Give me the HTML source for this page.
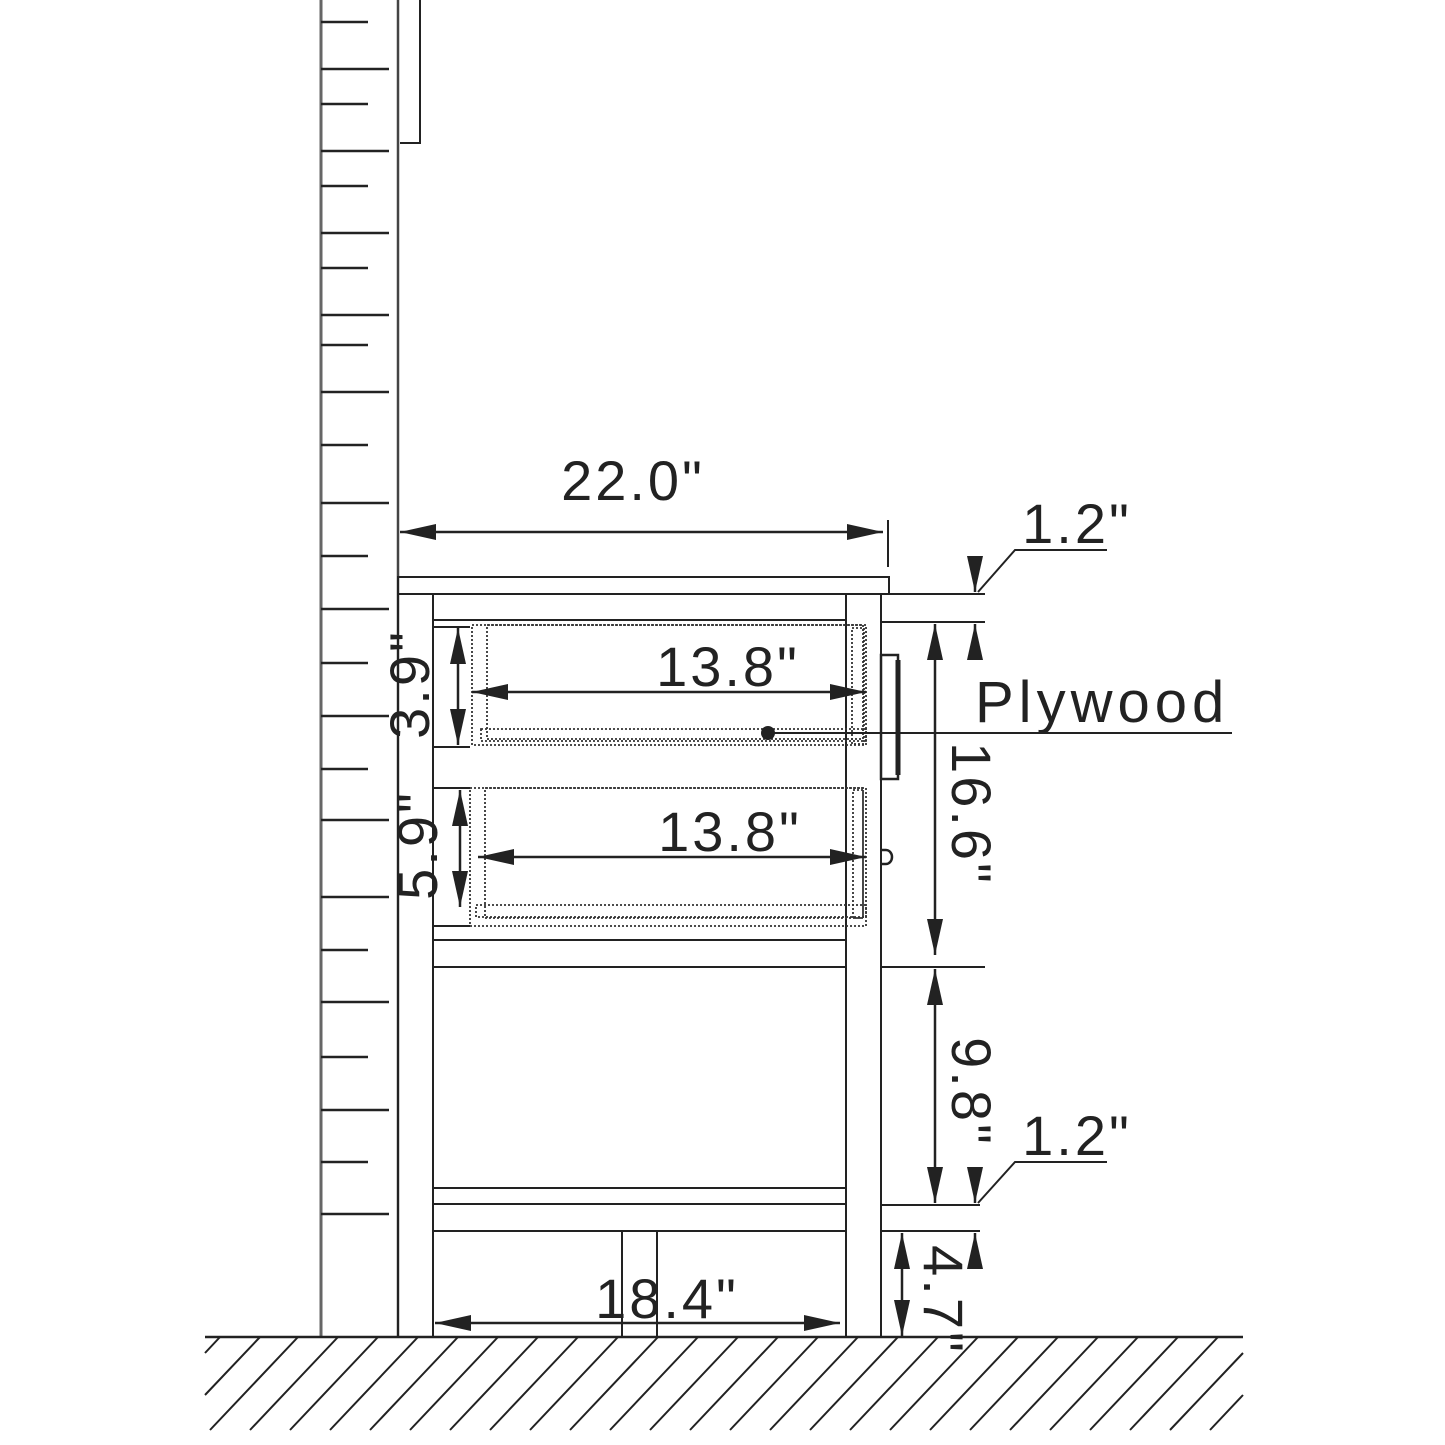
<!DOCTYPE html>
<html><head><meta charset="utf-8"><style>
html,body{margin:0;padding:0;background:#fff;}
svg{display:block;}
text{font-family:"Liberation Sans",sans-serif;fill:#222;}
</style></head><body>
<svg width="1445" height="1445" viewBox="0 0 1445 1445" xmlns="http://www.w3.org/2000/svg">
<defs>
<marker id="b" viewBox="0 0 10 10" refX="10" refY="5" markerWidth="36" markerHeight="16" markerUnits="userSpaceOnUse" orient="auto-start-reverse" preserveAspectRatio="none"><path d="M0,0 L10,5 L0,10 z" fill="#222"/></marker>
</defs>
<g stroke="#222" fill="none" stroke-width="2">
<line x1="321" y1="0" x2="321" y2="1337" stroke="#666" stroke-width="3"/>
<line x1="398" y1="0" x2="398" y2="1337" stroke="#444" stroke-width="2.5"/>
<g stroke-width="2.5">
<line x1="321" y1="22" x2="368" y2="22"/><line x1="321" y1="69" x2="389" y2="69"/>
<line x1="321" y1="104" x2="368" y2="104"/><line x1="321" y1="151" x2="389" y2="151"/>
<line x1="321" y1="186" x2="368" y2="186"/><line x1="321" y1="233" x2="389" y2="233"/>
<line x1="321" y1="268" x2="368" y2="268"/><line x1="321" y1="315" x2="389" y2="315"/>
<line x1="321" y1="345" x2="368" y2="345"/><line x1="321" y1="392" x2="389" y2="392"/>
<line x1="321" y1="445" x2="368" y2="445"/><line x1="321" y1="503" x2="389" y2="503"/>
<line x1="321" y1="556" x2="368" y2="556"/><line x1="321" y1="609" x2="389" y2="609"/>
<line x1="321" y1="663" x2="368" y2="663"/><line x1="321" y1="716" x2="389" y2="716"/>
<line x1="321" y1="769" x2="368" y2="769"/><line x1="321" y1="820" x2="389" y2="820"/>
<line x1="321" y1="897" x2="389" y2="897"/>
<line x1="321" y1="950" x2="368" y2="950"/><line x1="321" y1="1002" x2="389" y2="1002"/>
<line x1="321" y1="1057" x2="368" y2="1057"/><line x1="321" y1="1110" x2="389" y2="1110"/>
<line x1="321" y1="1162" x2="368" y2="1162"/><line x1="321" y1="1214" x2="389" y2="1214"/>
</g>
<polyline points="420,0 420,143 400,143"/>
<rect x="398" y="577" width="491" height="17"/>
<rect x="398" y="594" width="35" height="743"/>
<rect x="846" y="594" width="35" height="743"/>
<line x1="433" y1="620" x2="846" y2="620"/>
<line x1="433" y1="627" x2="470" y2="627"/>
<line x1="433" y1="747" x2="470" y2="747"/>
<line x1="433" y1="788" x2="470" y2="788"/>
<line x1="433" y1="926" x2="470" y2="926"/>
<line x1="433" y1="940" x2="846" y2="940"/>
<line x1="433" y1="967" x2="846" y2="967"/>
<line x1="433" y1="1188" x2="846" y2="1188"/>
<line x1="433" y1="1204" x2="846" y2="1204"/>
<line x1="433" y1="1231" x2="846" y2="1231"/>
<rect x="622" y="1231" width="35" height="106"/>
<g stroke-dasharray="2 2" stroke-width="1.8" stroke="#333">
<rect x="472" y="625" width="394" height="120"/>
<rect x="487" y="625" width="376" height="114"/>
<rect x="481" y="729" width="385" height="12"/>
<rect x="852" y="628" width="12" height="116"/>
<rect x="470" y="788" width="396" height="138"/>
<rect x="485" y="788" width="378" height="130"/>
<rect x="476" y="905" width="390" height="12"/>
<rect x="853" y="790" width="10" height="128"/>
</g>
<rect x="881" y="655" width="17" height="124" stroke-width="2.5"/>
<line x1="898" y1="660" x2="898" y2="775" stroke-width="5"/>
<path d="M881,850 h5 a6,7 0 0 1 0,14 h-5" stroke-width="2.5"/>
<line x1="881" y1="594" x2="985" y2="594"/>
<line x1="881" y1="622" x2="985" y2="622"/>
<line x1="881" y1="967" x2="985" y2="967"/>
<line x1="881" y1="1205" x2="980" y2="1205"/>
<line x1="881" y1="1231" x2="980" y2="1231"/>
<line x1="888" y1="520" x2="888" y2="567"/>
<line x1="205" y1="1337" x2="1243" y2="1337" stroke-width="2.5"/>
</g>
<g stroke="#222" stroke-width="2">
<path d="M210,1430 L298,1337 M250,1430 L338,1337 M290,1430 L378,1337 M330,1430 L418,1337 M370,1430 L458,1337 M410,1430 L498,1337 M450,1430 L538,1337 M490,1430 L578,1337 M530,1430 L618,1337 M570,1430 L658,1337 M610,1430 L698,1337 M650,1430 L738,1337 M690,1430 L778,1337 M730,1430 L818,1337 M770,1430 L858,1337 M810,1430 L898,1337 M850,1430 L938,1337 M890,1430 L978,1337 M930,1430 L1018,1337 M970,1430 L1058,1337 M1010,1430 L1098,1337 M1050,1430 L1138,1337 M1090,1430 L1178,1337 M1130,1430 L1218,1337 M1170,1430 L1243,1353 M1210,1430 L1243,1395 M205,1395 L260,1337 M205,1353 L220,1337"/>
</g>
<g stroke="#222" stroke-width="2.5" fill="none">
<line x1="400" y1="532" x2="883" y2="532" marker-start="url(#b)" marker-end="url(#b)"/>
<line x1="472" y1="692" x2="866" y2="692" marker-start="url(#b)" marker-end="url(#b)"/>
<line x1="478" y1="857" x2="866" y2="857" marker-start="url(#b)" marker-end="url(#b)"/>
<line x1="435" y1="1323" x2="840" y2="1323" marker-start="url(#b)" marker-end="url(#b)"/>
<line x1="458" y1="628" x2="458" y2="745" marker-start="url(#b)" marker-end="url(#b)"/>
<line x1="460" y1="790" x2="460" y2="907" marker-start="url(#b)" marker-end="url(#b)"/>
<line x1="935" y1="624" x2="935" y2="955" marker-start="url(#b)" marker-end="url(#b)"/>
<line x1="935" y1="969" x2="935" y2="1203" marker-start="url(#b)" marker-end="url(#b)"/>
<line x1="902" y1="1233" x2="902" y2="1336" marker-start="url(#b)" marker-end="url(#b)"/>
<line x1="975" y1="558" x2="975" y2="592" marker-end="url(#b)"/>
<line x1="975" y1="656" x2="975" y2="624" marker-end="url(#b)"/>
<line x1="975" y1="1170" x2="975" y2="1203" marker-end="url(#b)"/>
<line x1="975" y1="1263" x2="975" y2="1233" marker-end="url(#b)"/>
<polyline points="978,592 1015,550 1107,550" stroke-width="2"/>
<polyline points="978,1203 1015,1162 1107,1162" stroke-width="2"/>
<line x1="768" y1="733" x2="1232" y2="733" stroke-width="2"/>
</g>
<circle cx="768" cy="733" r="7" fill="#222"/>
<g font-size="56" letter-spacing="3">
<text x="633" y="500" text-anchor="middle">22.0"</text>
<text x="728" y="686" text-anchor="middle">13.8"</text>
<text x="730" y="851" text-anchor="middle">13.8"</text>
<text x="667" y="1318" text-anchor="middle">18.4"</text>
<text x="1077" y="543" text-anchor="middle">1.2"</text>
<text x="1077" y="1155" text-anchor="middle">1.2"</text>
<text x="975" y="722" font-size="58" letter-spacing="5">Plywood</text>
<text transform="translate(952,814) rotate(90)" text-anchor="middle">16.6"</text>
<text transform="translate(952,1092) rotate(90)" text-anchor="middle">9.8"</text>
<text transform="translate(924,1300) rotate(90)" text-anchor="middle">4.7"</text>
<text transform="translate(429,684) rotate(-90)" text-anchor="middle">3.9"</text>
<text transform="translate(437,845) rotate(-90)" text-anchor="middle">5.9"</text>
</g>
</svg>
</body></html>
